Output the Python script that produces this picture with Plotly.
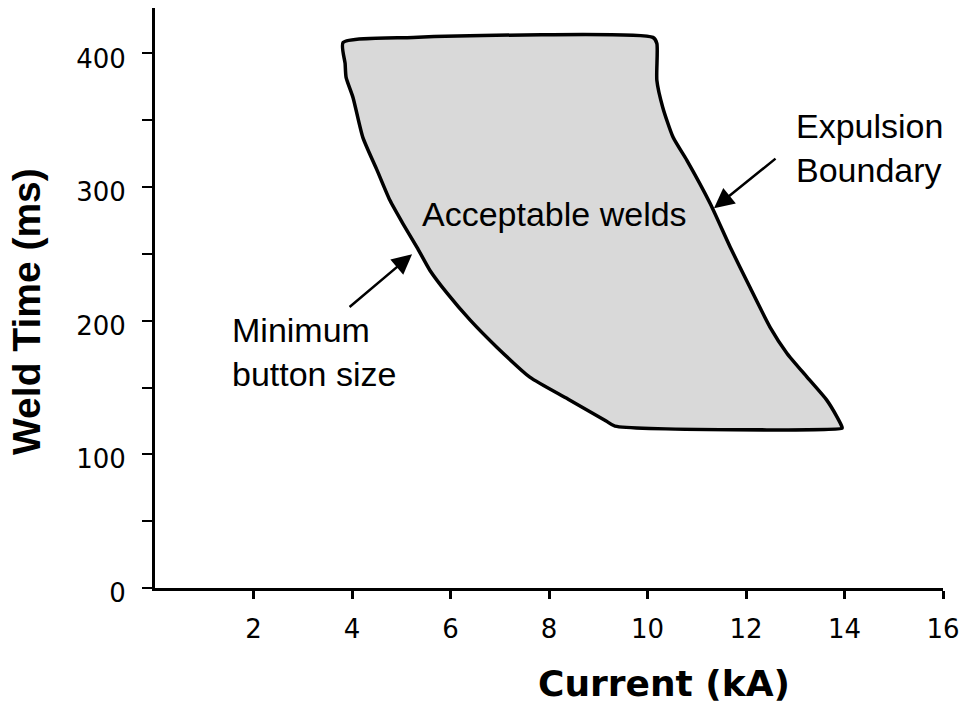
import plotly.graph_objects as go

# Lobe boundaries (Current kA, Weld time ms)
top_current = [3.82, 5.24, 10.11]
top_time = [408.2, 412.0, 412.0]

expulsion_current = [10.19, 10.19, 10.31, 10.52, 10.80, 11.27, 11.68, 12.08, 12.49, 12.83, 13.24, 13.64, 13.85, 13.95]
expulsion_time = [407.5, 379.8, 359.6, 337.2, 320.0, 287.9, 255.0, 225.0, 195.1, 175.7, 157.8, 140.6, 127.9, 120.4]

bottom_current = [13.95, 9.34]
bottom_time = [119.6, 121.1]

min_button_current = [9.16, 8.39, 7.61, 6.94, 6.40, 5.93, 5.58, 5.32, 5.03, 4.77, 4.51, 4.22, 4.02, 3.88, 3.86, 3.82]
min_button_time = [124.9, 141.3, 157.8, 180.2, 200.4, 220.6, 237.8, 254.9, 272.9, 290.1, 312.5, 337.2, 367.1, 382.1, 392.5, 408.2]

x_tick_vals = [2, 4, 6, 8, 10, 12, 14, 16]
x_tick_text = ["2", "4", "6", "8", "10", "12", "14", "16"]
y_tick_vals = [0, 50, 100, 150, 200, 250, 300, 350, 400]
y_tick_text = ["0", "", "100", "", "200", "", "300", "", "400"]

poly_x = top_current + expulsion_current + bottom_current + min_button_current
poly_y = top_time + expulsion_time + bottom_time + min_button_time

fig = go.Figure()
fig.add_trace(go.Scatter(
    x=poly_x, y=poly_y, mode="lines", fill="toself",
    fillcolor="#d9d9d9", line=dict(color="black", width=3.5, shape="spline", smoothing=0.6),
    hoverinfo="skip", showlegend=False,
))

ann_font = dict(family="Liberation Sans, Arial", size=34, color="black")
fig.add_annotation(x=8.12, y=279.6, text="Acceptable welds", showarrow=False,
                   font=ann_font, xanchor="center", yanchor="middle")
fig.add_annotation(x=12.97, y=328.9, text="Expulsion<br>Boundary", showarrow=False,
                   font=ann_font, xanchor="left", yanchor="middle", align="left")
fig.add_annotation(x=1.52, y=176.4, text="Minimum<br>button size", showarrow=False,
                   font=ann_font, xanchor="left", yanchor="middle", align="left")
# arrows
fig.add_annotation(x=11.35, y=284.1, ax=12.63, ay=322.2, axref="x", ayref="y",
                   text="", showarrow=True, arrowhead=2, arrowsize=1.6, arrowwidth=2.5,
                   arrowcolor="black")
fig.add_annotation(x=5.22, y=249.7, ax=3.92, ay=209.3, axref="x", ayref="y",
                   text="", showarrow=True, arrowhead=2, arrowsize=1.6, arrowwidth=2.5,
                   arrowcolor="black")

W, H = 961, 706
ml, mr, mt, mb = 155, 18, 8, 118

def px_to_paper(px, py):
    return (px - ml) / (W - ml - mr), (H - mb - py) / (H - mt - mb)

tx, ty = px_to_paper(664, 684)
fig.add_annotation(x=tx, y=ty, xref="paper", yref="paper", text="<b>Current (kA)</b>",
                   showarrow=False, xanchor="center", yanchor="middle",
                   font=dict(family="DejaVu Sans", size=36, color="black"))
tx, ty = px_to_paper(27, 312)
fig.add_annotation(x=tx, y=ty, xref="paper", yref="paper", text="<b>Weld Time (ms)</b>",
                   showarrow=False, textangle=-90, xanchor="center", yanchor="middle",
                   font=dict(family="Liberation Sans, Arial", size=39, color="black"))

fig.update_xaxes(range=[0, 16], tickvals=x_tick_vals, ticktext=x_tick_text,
                 showline=True, linecolor="black", linewidth=3, ticks="outside",
                 ticklen=8, tickwidth=3, tickcolor="black", showgrid=False, zeroline=False,
                 tickfont=dict(family="DejaVu Sans", size=26, color="black"),
                 ticklabelstandoff=8, automargin=False)
fig.update_yaxes(range=[0, 434], tickvals=y_tick_vals, ticktext=y_tick_text,
                 showline=True, linecolor="black", linewidth=3, ticks="outside",
                 ticklen=10, tickwidth=2, tickcolor="black", showgrid=False, zeroline=False,
                 tickfont=dict(family="DejaVu Sans", size=26, color="black"),
                 ticklabelstandoff=11, ticklabelshift=5, automargin=False)
fig.update_layout(width=W, height=H, autosize=False,
                  margin=dict(l=ml, r=mr, t=mt, b=mb),
                  plot_bgcolor="white", paper_bgcolor="white")
fig.write_html("out.html", config={"displayModeBar": False},
               post_script="document.body.style.margin='0';document.body.style.overflow='hidden';")
